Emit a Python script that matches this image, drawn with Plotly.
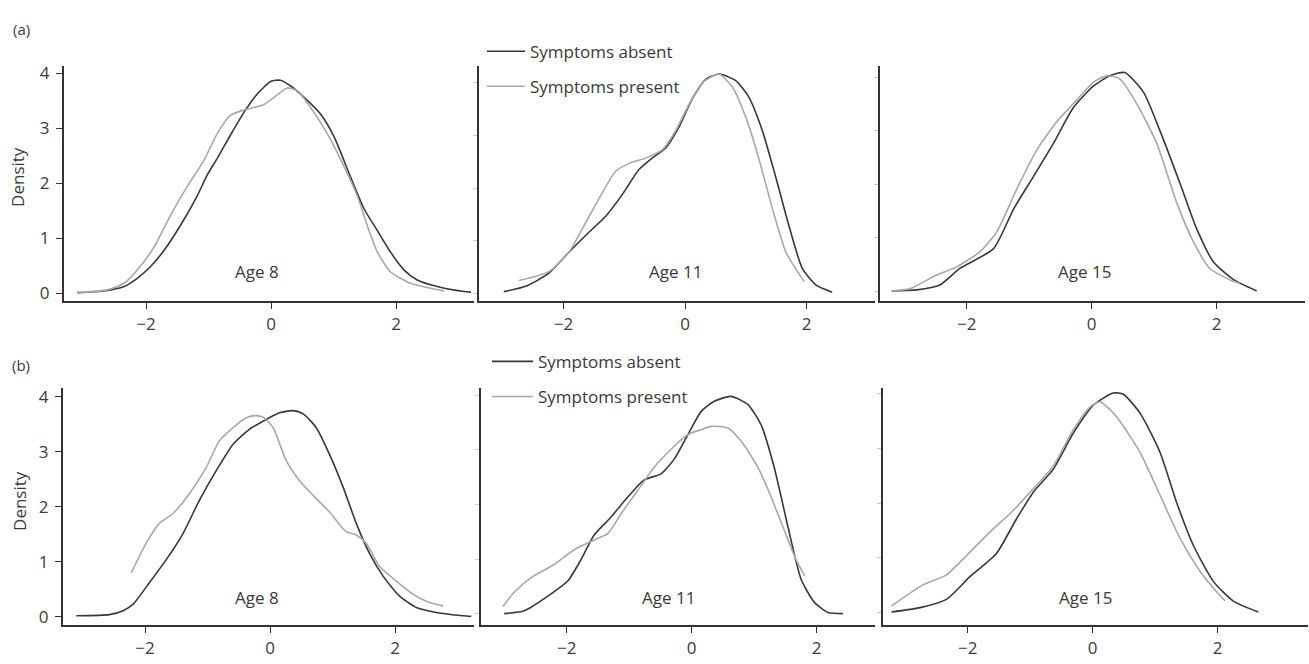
import plotly.graph_objects as go

# ---------------- data ----------------
# Row (a)
a8_absent_x = [-3.10, -2.67, -2.35, -2.14, -1.93, -1.71, -1.45, -1.18, -1.02, -0.86, -0.65, -0.43, -0.22, 0.00, 0.15, 0.31, 0.53, 0.79, 1.01, 1.27, 1.49, 1.70, 1.91, 2.13, 2.34, 2.66, 3.09, 3.20]
a8_absent_y = [0.01, 0.04, 0.12, 0.27, 0.48, 0.78, 1.23, 1.77, 2.15, 2.45, 2.87, 3.29, 3.62, 3.85, 3.87, 3.77, 3.56, 3.26, 2.84, 2.12, 1.53, 1.14, 0.75, 0.42, 0.24, 0.12, 0.03, 0.02]
a8_present_x = [-3.10, -2.62, -2.35, -2.14, -1.87, -1.61, -1.34, -1.07, -0.86, -0.65, -0.43, -0.11, 0.05, 0.26, 0.42, 0.63, 0.90, 1.17, 1.38, 1.54, 1.70, 1.91, 2.23, 2.55, 2.77]
a8_present_y = [0.01, 0.06, 0.18, 0.42, 0.84, 1.41, 1.94, 2.42, 2.90, 3.23, 3.33, 3.43, 3.56, 3.73, 3.68, 3.38, 2.90, 2.30, 1.77, 1.23, 0.75, 0.39, 0.18, 0.09, 0.04]

a11_absent_x = [-2.98, -2.62, -2.24, -1.91, -1.58, -1.30, -1.03, -0.76, -0.54, -0.32, -0.10, 0.12, 0.34, 0.56, 0.83, 1.05, 1.27, 1.49, 1.71, 1.93, 2.15, 2.42]
a11_absent_y = [0.03, 0.13, 0.38, 0.78, 1.16, 1.47, 1.88, 2.35, 2.57, 2.76, 3.16, 3.70, 4.07, 4.17, 4.05, 3.73, 3.10, 2.22, 1.28, 0.47, 0.16, 0.02]
a11_present_x = [-2.73, -2.24, -1.91, -1.63, -1.36, -1.14, -0.92, -0.65, -0.37, -0.15, 0.07, 0.29, 0.56, 0.78, 1.00, 1.22, 1.44, 1.66, 1.96]
a11_present_y = [0.24, 0.41, 0.78, 1.35, 1.91, 2.32, 2.47, 2.57, 2.73, 3.10, 3.60, 4.01, 4.17, 3.92, 3.35, 2.54, 1.60, 0.78, 0.22]

a15_absent_x = [-3.20, -2.80, -2.43, -2.11, -1.57, -1.25, -0.93, -0.61, -0.29, 0.03, 0.29, 0.53, 0.83, 1.09, 1.41, 1.68, 1.95, 2.27, 2.64]
a15_absent_y = [0.01, 0.03, 0.12, 0.43, 0.80, 1.54, 2.15, 2.77, 3.44, 3.84, 4.03, 4.09, 3.72, 3.01, 2.03, 1.17, 0.55, 0.22, 0.01]
a15_present_x = [-3.20, -2.91, -2.53, -2.16, -1.79, -1.52, -1.20, -0.88, -0.56, -0.29, 0.03, 0.24, 0.45, 0.72, 1.04, 1.36, 1.63, 1.89, 2.21, 2.37]
a15_present_y = [0.01, 0.05, 0.28, 0.46, 0.74, 1.11, 1.91, 2.64, 3.17, 3.51, 3.91, 4.03, 3.97, 3.51, 2.77, 1.66, 0.92, 0.43, 0.22, 0.15]

# Row (b)
b8_absent_x = [-3.10, -2.57, -2.35, -2.19, -1.93, -1.66, -1.39, -1.13, -0.86, -0.59, -0.33, -0.06, 0.15, 0.37, 0.53, 0.74, 0.95, 1.17, 1.38, 1.59, 1.81, 2.07, 2.34, 2.66, 3.09, 3.22]
b8_absent_y = [0.02, 0.04, 0.11, 0.23, 0.62, 1.04, 1.52, 2.12, 2.66, 3.14, 3.41, 3.59, 3.71, 3.75, 3.69, 3.44, 2.96, 2.36, 1.70, 1.16, 0.74, 0.38, 0.17, 0.08, 0.02, 0.01]
b8_present_x = [-2.22, -1.98, -1.77, -1.55, -1.29, -1.02, -0.81, -0.59, -0.38, -0.22, -0.11, 0.05, 0.26, 0.47, 0.69, 0.95, 1.22, 1.38, 1.54, 1.75, 2.02, 2.29, 2.55, 2.77]
b8_present_y = [0.80, 1.34, 1.70, 1.88, 2.24, 2.72, 3.20, 3.44, 3.62, 3.66, 3.63, 3.44, 2.84, 2.48, 2.21, 1.91, 1.55, 1.49, 1.34, 0.92, 0.65, 0.41, 0.26, 0.20]

b11_absent_x = [-3.00, -2.68, -2.25, -1.98, -1.77, -1.56, -1.29, -1.02, -0.76, -0.49, -0.28, -0.06, 0.15, 0.36, 0.63, 0.90, 1.11, 1.32, 1.54, 1.75, 1.96, 2.18, 2.42]
b11_absent_y = [0.00, 0.05, 0.36, 0.60, 0.99, 1.44, 1.77, 2.14, 2.45, 2.56, 2.83, 3.28, 3.70, 3.89, 3.98, 3.83, 3.46, 2.68, 1.59, 0.63, 0.21, 0.02, 0.00]
b11_present_x = [-3.02, -2.84, -2.57, -2.20, -1.88, -1.56, -1.34, -1.13, -0.86, -0.60, -0.33, -0.06, 0.15, 0.31, 0.58, 0.79, 1.06, 1.27, 1.48, 1.67, 1.81]
b11_present_y = [0.13, 0.39, 0.66, 0.90, 1.17, 1.35, 1.47, 1.83, 2.26, 2.68, 3.01, 3.28, 3.37, 3.43, 3.40, 3.16, 2.68, 2.14, 1.53, 0.99, 0.69]

b15_absent_x = [-3.22, -2.76, -2.34, -1.96, -1.54, -1.22, -0.95, -0.63, -0.31, 0.01, 0.33, 0.49, 0.76, 1.08, 1.34, 1.61, 1.93, 2.25, 2.65]
b15_absent_y = [0.01, 0.09, 0.24, 0.66, 1.08, 1.71, 2.20, 2.62, 3.28, 3.79, 4.01, 3.99, 3.64, 2.92, 2.02, 1.23, 0.57, 0.21, 0.01]
b15_present_x = [-3.22, -2.71, -2.34, -1.96, -1.59, -1.32, -1.00, -0.63, -0.31, -0.04, 0.12, 0.38, 0.76, 1.08, 1.40, 1.72, 1.93, 2.12]
b15_present_y = [0.12, 0.51, 0.69, 1.11, 1.53, 1.81, 2.20, 2.68, 3.34, 3.76, 3.85, 3.58, 2.92, 2.14, 1.35, 0.75, 0.45, 0.21]

age_labels = ["Age 8", "Age 11", "Age 15"]
series_names = ["Symptoms absent", "Symptoms present"]
x_tick_vals = [-2, 0, 2]
y_tick_vals = [0, 1, 2, 3, 4]

# ---------------- styling / layout ----------------
W, H = 1309, 664
FONT = "Open Sans, Noto Sans, DejaVu Sans, sans-serif"
TXT = "#3a3a3a"
C_ABS = "#383838"
C_PRES = "#a8a8a8"
LW = 1.6

panels = [
    # (absent x, absent y, present x, present y, label, xdomain px, xrange, ydomain px, yrange, label pos, legend)
    (a8_absent_x, a8_absent_y, a8_present_x, a8_present_y, age_labels[0], (64, 474), (-3.312, 3.248), (62, 300), (-0.149, 4.124), (-0.23, 0.39), None),
    (a11_absent_x, a11_absent_y, a11_present_x, a11_present_y, age_labels[1], (479, 875), (-3.388, 3.125), (62, 300), (-0.156, 4.318), (-0.16, 0.41), "legend"),
    (a15_absent_x, a15_absent_y, a15_present_x, a15_present_y, age_labels[2], (880, 1305), (-3.387, 3.413), (62, 300), (-0.185, 4.207), (-0.11, 0.37), None),
    (b8_absent_x, b8_absent_y, b8_present_x, b8_present_y, age_labels[0], (63, 474), (-3.312, 3.264), (388, 628), (-0.156, 4.156), (-0.21, 0.35), None),
    (b11_absent_x, b11_absent_y, b11_present_x, b11_present_y, age_labels[1], (481, 875), (-3.371, 2.933), (388, 628), (-0.217, 4.127), (-0.37, 0.29), "legend2"),
    (b15_absent_x, b15_absent_y, b15_present_x, b15_present_y, age_labels[2], (883, 1308), (-3.355, 3.445), (388, 628), (-0.235, 4.097), (-0.12, 0.27), None),
]

fig = go.Figure()
layout = dict(
    width=W, height=H,
    margin=dict(l=0, r=0, t=0, b=0),
    paper_bgcolor="white", plot_bgcolor="white",
    font=dict(family=FONT, size=17, color=TXT),
    showlegend=True,
)
annotations = []

for i, (ax_, ay_, px_, py_, lab, xd, xr, yd, yr, lpos, leg) in enumerate(panels):
    n = i + 1
    xa = "x" if n == 1 else f"x{n}"
    ya = "y" if n == 1 else f"y{n}"
    for xs, ys, col, name, grp in ((ax_, ay_, C_ABS, series_names[0], "abs"),
                                    (px_, py_, C_PRES, series_names[1], "pres")):
        fig.add_trace(go.Scatter(
            x=xs, y=ys, mode="lines", name=name,
            line=dict(color=col, width=LW, shape="spline", smoothing=0.6),
            xaxis=xa, yaxis=ya,
            showlegend=leg is not None,
            legend=leg if leg else "legend",
            legendgroup=f"{grp}{n}",
            hoverinfo="skip",
        ))
    xkey = "xaxis" if n == 1 else f"xaxis{n}"
    ykey = "yaxis" if n == 1 else f"yaxis{n}"
    layout[xkey] = dict(
        domain=[xd[0] / W, xd[1] / W], range=list(xr), anchor=ya,
        showgrid=False, zeroline=False, showline=True, linecolor="#333333", linewidth=2,
        ticks="outside", ticklen=6, tickwidth=1.3, tickcolor="#333333",
        tickvals=x_tick_vals, ticktext=["\u22122", "0", "2"],
        tickfont=dict(family=FONT, size=17, color=TXT), fixedrange=True,
    )
    ydict = dict(
        domain=[1 - yd[1] / H, 1 - yd[0] / H], range=list(yr), anchor=xa,
        showgrid=False, zeroline=False, showline=True, linecolor="#333333", linewidth=2,
        tickvals=y_tick_vals, fixedrange=True,
    )
    if n in (1, 4):
        ydict.update(ticks="outside", ticklen=6, tickwidth=1.3, tickcolor="#333333",
                     showticklabels=True, ticklabelstandoff=3,
                     tickfont=dict(family=FONT, size=17, color=TXT))
    else:
        ydict.update(ticks="outside", ticklen=4, tickwidth=1, tickcolor="#c8c8c8",
                     showticklabels=False)
    layout[ykey] = ydict
    annotations.append(dict(
        x=lpos[0], y=lpos[1], xref=xa, yref=ya, text=lab, showarrow=False,
        font=dict(family=FONT, size=17, color=TXT), xanchor="center", yanchor="middle",
    ))

# Panel letters and y-axis titles
annotations += [
    dict(x=21 / W, y=1 - 24 / H, xref="paper", yref="paper", text="(a)", showarrow=False,
         font=dict(family=FONT, size=15, color=TXT), xanchor="center", yanchor="middle"),
    dict(x=21 / W, y=1 - 364 / H, xref="paper", yref="paper", text="(b)", showarrow=False,
         font=dict(family=FONT, size=15, color=TXT), xanchor="center", yanchor="middle"),
    dict(x=18 / W, y=1 - 174 / H, xref="paper", yref="paper", text="Density", showarrow=False,
         textangle=-90, font=dict(family=FONT, size=17, color=TXT), xanchor="center", yanchor="middle"),
    dict(x=20 / W, y=1 - 502 / H, xref="paper", yref="paper", text="Density", showarrow=False,
         textangle=-90, font=dict(family=FONT, size=17, color=TXT), xanchor="center", yanchor="middle"),
]
layout["annotations"] = annotations

legend_common = dict(
    xanchor="left", yanchor="top", bgcolor="rgba(0,0,0,0)", borderwidth=0,
    font=dict(family=FONT, size=17, color=TXT), tracegroupgap=10,
    itemclick=False, itemdoubleclick=False, traceorder="grouped",
)
layout["legend"] = dict(x=482 / W, y=1 - 29 / H, itemwidth=38, **legend_common)
layout["legend2"] = dict(x=487 / W, y=1 - 343 / H, itemwidth=41, **legend_common)

fig.update_layout(**layout)
fig.write_html(
    "out.html",
    config={"displayModeBar": False},
    post_script="document.body.style.margin='0';document.body.style.padding='0';"
                "document.documentElement.style.overflow='hidden';",
)
